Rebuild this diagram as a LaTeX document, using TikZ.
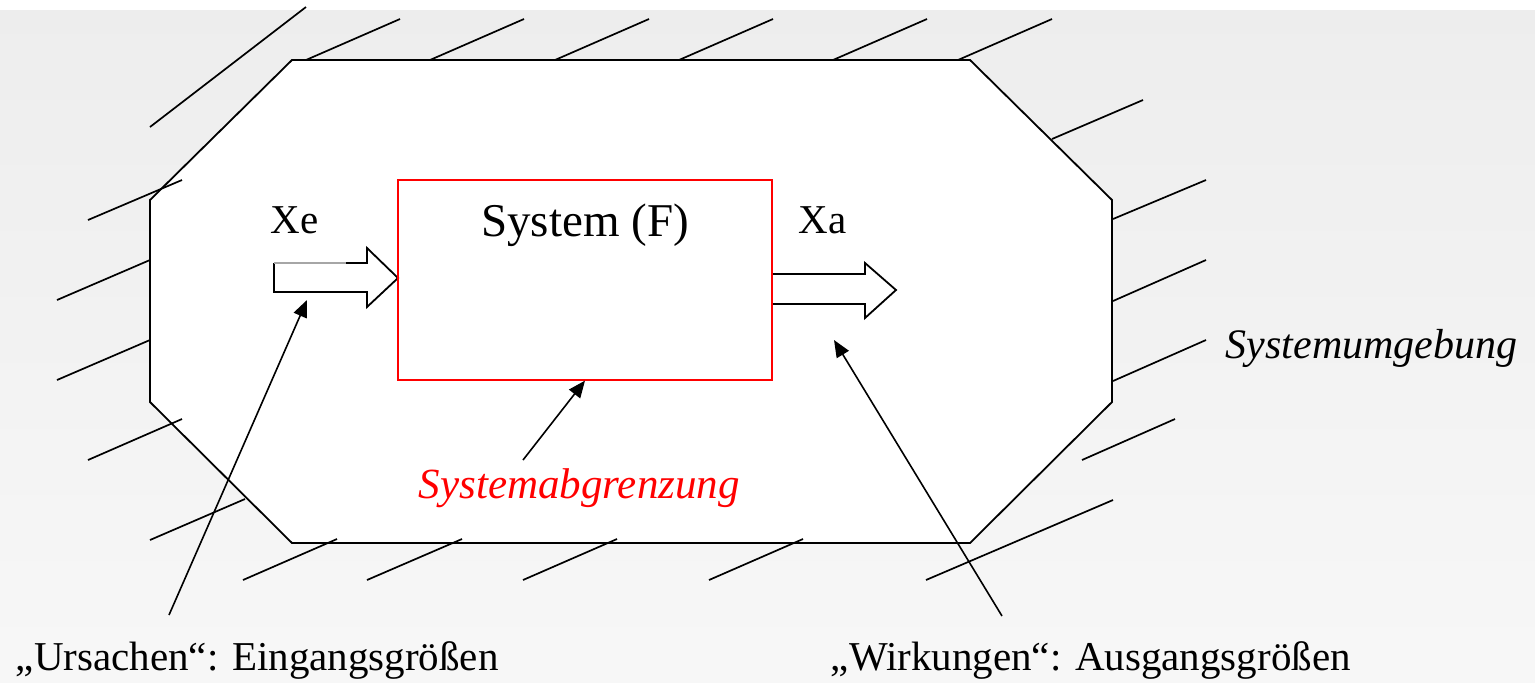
\documentclass[tikz,border=0pt]{standalone}
\usepackage{fontspec}
\setmainfont{Liberation Serif}
\usetikzlibrary{positioning, arrows.meta}

\tikzset{
  hatch/.style={black, line width=0.85pt},
  pointer/.style={-{Triangle[length=8.5pt, width=7pt]}, line width=0.8pt},
  labelText/.style={inner sep=0pt, anchor=base west, font=\fontsize{20.5}{24}\selectfont},
}

\begin{document}
\begin{tikzpicture}[x=0.5pt, y=-0.5pt, line width=0.9pt]
    \useasboundingbox (0,0) rectangle (1535,682);
    \fill[white] (0,0) rectangle (1535,682);
    \shade[top color=black!7, bottom color=black!3] (0,10) rectangle (1535,682);

    \draw[fill=white] (292,60) -- (970,60) -- (1112,200) -- (1112,402) -- (970,543) -- (292,543) -- (150,402) -- (150,200) -- cycle;

    \foreach \xa/\ya/\xb/\yb in {150/127/306/7, 306/60/400/19, 430/60/524/19, 555/60/649/19, 679/60/773/19,
        833/60/927/19, 958/60/1052/19, 1052/139/1143/100, 1113/219/1206/180, 1113/301/1206/260,
        1113/381/1206/340, 1082/460/1175/419, 926/580/1113/500, 709/580/803/539, 523/580/617/539,
        367/580/462/539, 243/580/337/539, 150/540/245/499, 88/460/182/419, 57/380/150/340,
        57/300/150/260, 88/220/182/180}
        \draw[hatch] (\xa,\ya) -- (\xb,\yb);

    \fill[white] (274,263) -- (367,263) -- (367,248) -- (398,278) -- (367,307) -- (367,292) -- (274,292) -- cycle;
    \draw (346,263) -- (367,263) -- (367,248) -- (398,278) -- (367,307) -- (367,292) -- (274,292) -- (274,263);
    \draw[black!35] (274,263) -- (346,263);
    \draw[fill=white] (772,274) -- (865,274) -- (865,263) -- (896,290) -- (865,318) -- (865,304) -- (772,304) -- cycle;

    \node[draw=red, line width=0.6pt, minimum width=187pt, minimum height=100pt, inner sep=0pt] (sysBox) at (585,280) {};
    \node[below = 12pt of sysBox.north, inner sep=0pt, font=\fontsize{23.5}{28}\selectfont] (sysName) {System (F)};

    \node[labelText] (xeLabel) at (270,233) {Xe};
    \node[labelText] (xaLabel) at (798,233) {Xa};
    \node[labelText, font=\fontsize{21}{25}\selectfont\itshape] (umgebung) at (1225,358) {Systemumgebung};
    \node[labelText, text=red, font=\fontsize{21.5}{25}\selectfont\itshape] (abgrenzung) at (418,498) {Systemabgrenzung};
    \node[labelText] (ursachen) at (15,670) {„Ursachen“: Eingangsgrößen};
    \node[labelText] (wirkungen) at (830,670) {„Wirkungen“: Ausgangsgrößen};

    \coordinate (ursFoot) at (169,615);
    \coordinate (xeFoot) at (307,300);
    \coordinate (abgrFoot) at (523,460);
    \coordinate (wirkFoot) at (1002,616);
    \coordinate (xaFoot) at (834,340);
    \draw[pointer] (ursFoot) -- (xeFoot);
    \draw[pointer] (abgrFoot) -- (sysBox.south);
    \draw[pointer] (wirkFoot) -- (xaFoot);
\end{tikzpicture}
\end{document}
